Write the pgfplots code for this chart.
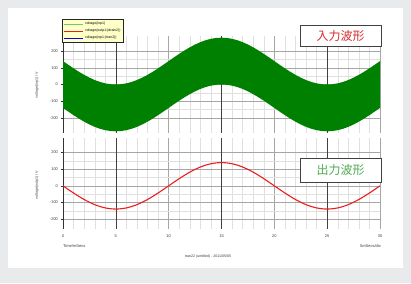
\documentclass[border=0pt]{standalone}
\usepackage{pgfplots}
\pgfplotsset{compat=1.18}
\usepackage{fontspec}
\setmainfont{Liberation Sans}
\newfontfamily\cjk{Noto Sans CJK JP}
\definecolor{bgray}{RGB}{233,234,236}
\definecolor{bandgreen}{RGB}{0,128,0}
\definecolor{outred}{RGB}{235,30,30}
\definecolor{boxred}{RGB}{215,45,45}
\definecolor{boxgreen}{RGB}{80,170,80}
\definecolor{ticktxt}{RGB}{60,60,60}
\definecolor{legfill}{RGB}{255,255,200}
\definecolor{leggreen}{RGB}{110,200,110}
\pgfplotsset{
  common/.style={
    scale only axis, width=317pt, xmin=0, xmax=30,
    axis x line*=bottom, axis y line*=left,
    x axis line style={draw=none},
    y axis line style={-, draw=black!80, line width=0.8pt},
    xtick={0,5,...,30}, minor x tick num=4,
    ytick={-200,-100,0,100,200}, minor y tick num=1,
    grid=both,
    major grid style={black!35, line width=0.4pt},
    minor grid style={black!12, line width=0.4pt},
    extra x ticks={5,15,25}, extra x tick labels={},
    extra x tick style={grid=major, major grid style={black!75, line width=0.6pt}},
    tick align=outside, major tick length=2.5pt,
    xtick style={draw=none}, minor tick length=0pt,
    ytick style={draw=black!80, line width=0.5pt},
    tick label style={font=\fontsize{4}{4.5}\selectfont, text=ticktxt},
    yticklabel style={xshift=1pt},
    /pgf/number format/assume math mode=true,
    clip=true,
  }
}
\begin{document}
\begin{tikzpicture}
\fill[bgray] (0pt,0pt) rectangle (411pt,283pt);
\fill[white] (8pt,15pt) rectangle (403pt,275pt);

% top axis: input
\begin{axis}[common, at={(63pt,150pt)}, anchor=south west, height=97pt,
  ymin=-290, ymax=290, xticklabels={},
  legend style={at={(axis description cs:-0.003,1.175)}, anchor=north west,
    fill=legfill, draw=black!85, line width=1pt,
    font=\fontsize{3.5}{3.8}\selectfont, inner sep=0.6pt, row sep=-1pt,
    cells={anchor=west}},
  legend image code/.code={\draw[line width=0.9pt,#1] (0pt,0pt) -- (19pt,0pt);}]
% band of the input: upper envelope 0->30, then lower envelope 30->0
\addplot[fill=bandgreen, draw=none, forget plot] coordinates {
(0,140) (0.5,118.1) (1,96.7) (1.5,76.4) (2,57.7) (2.5,41.0) (3,26.7) (3.5,15.3) (4,6.9) (4.5,1.7)
(5,0) (5.5,1.7) (6,6.9) (6.5,15.3) (7,26.7) (7.5,41.0) (8,57.7) (8.5,76.4) (9,96.7) (9.5,118.1)
(10,140) (10.5,161.9) (11,183.3) (11.5,203.6) (12,222.3) (12.5,239.0) (13,253.3) (13.5,264.7) (14,273.1) (14.5,278.3)
(15,280) (15.5,278.3) (16,273.1) (16.5,264.7) (17,253.3) (17.5,239.0) (18,222.3) (18.5,203.6) (19,183.3) (19.5,161.9)
(20,140) (20.5,118.1) (21,96.7) (21.5,76.4) (22,57.7) (22.5,41.0) (23,26.7) (23.5,15.3) (24,6.9) (24.5,1.7)
(25,0) (25.5,1.7) (26,6.9) (26.5,15.3) (27,26.7) (27.5,41.0) (28,57.7) (28.5,76.4) (29,96.7) (29.5,118.1) (30,140)
(30,-140) (29.5,-161.9) (29,-183.3) (28.5,-203.6) (28,-222.3) (27.5,-239.0) (27,-253.3) (26.5,-264.7) (26,-273.1) (25.5,-278.3)
(25,-280) (24.5,-278.3) (24,-273.1) (23.5,-264.7) (23,-253.3) (22.5,-239.0) (22,-222.3) (21.5,-203.6) (21,-183.3) (20.5,-161.9)
(20,-140) (19.5,-118.1) (19,-96.7) (18.5,-76.4) (18,-57.7) (17.5,-41.0) (17,-26.7) (16.5,-15.3) (16,-6.9) (15.5,-1.7)
(15,0) (14.5,-1.7) (14,-6.9) (13.5,-15.3) (13,-26.7) (12.5,-41.0) (12,-57.7) (11.5,-76.4) (11,-96.7) (10.5,-118.1)
(10,-140) (9.5,-161.9) (9,-183.3) (8.5,-203.6) (8,-222.3) (7.5,-239.0) (7,-253.3) (6.5,-264.7) (6,-273.1) (5.5,-278.3)
(5,-280) (4.5,-278.3) (4,-273.1) (3.5,-264.7) (3,-253.3) (2.5,-239.0) (2,-222.3) (1.5,-203.6) (1,-183.3) (0.5,-161.9) (0,-140)
} -- cycle;
\addlegendimage{leggreen}
\addlegendentry{voltage(inp1)}
\addlegendimage{outred}
\addlegendentry{voltage(outp1:(drain2))}
\addlegendimage{blue}
\addlegendentry{voltage(inp1:(tran2))}
\end{axis}

% bottom axis: output
\begin{axis}[common, at={(63pt,54pt)}, anchor=south west, height=91pt,
  ymin=-260, ymax=288]
\addplot[outred, line width=1.1pt, smooth] coordinates {
(0,0) (1,-43.3) (2,-82.3) (3,-113.3) (4,-133.1) (5,-140) (6,-133.1) (7,-113.3) (8,-82.3) (9,-43.3)
(10,0) (11,43.3) (12,82.3) (13,113.3) (14,133.1) (15,140) (16,133.1) (17,113.3) (18,82.3) (19,43.3)
(20,0) (21,-43.3) (22,-82.3) (23,-113.3) (24,-133.1) (25,-140) (26,-133.1) (27,-113.3) (28,-82.3) (29,-43.3) (30,0)};
\end{axis}

% labels
\node[rotate=90, font=\fontsize{3.6}{4}\selectfont, text=ticktxt] at (37pt,198pt) {voltage(inp1) / V};
\node[rotate=90, font=\fontsize{3.6}{4}\selectfont, text=ticktxt] at (37pt,98pt) {voltage(outp1) / V};
\node[anchor=west, font=\fontsize{4}{4.5}\selectfont, text=ticktxt, inner sep=0] at (63pt,37pt) {Time/mSecs};
\node[anchor=east, font=\fontsize{4}{4.5}\selectfont, text=ticktxt, inner sep=0] at (381pt,37pt) {5mSecs/div};
\node[font=\fontsize{3.6}{4}\selectfont, text=ticktxt, inner sep=0] at (208pt,26pt) {tran22 (untitled) - 2011/05/05};

% annotation boxes
\draw[black!75, line width=0.8pt, fill=white] (300pt,237pt) rectangle (381pt,258pt);
\node[font=\cjk\fontsize{12}{12}\selectfont, text=boxred] at (340.5pt,247.5pt) {入力波形};
\draw[black!75, line width=0.8pt, fill=white] (300pt,101pt) rectangle (381pt,125pt);
\node[font=\cjk\fontsize{12}{12}\selectfont, text=boxgreen] at (340.5pt,113pt) {出力波形};
\end{tikzpicture}
\end{document}
